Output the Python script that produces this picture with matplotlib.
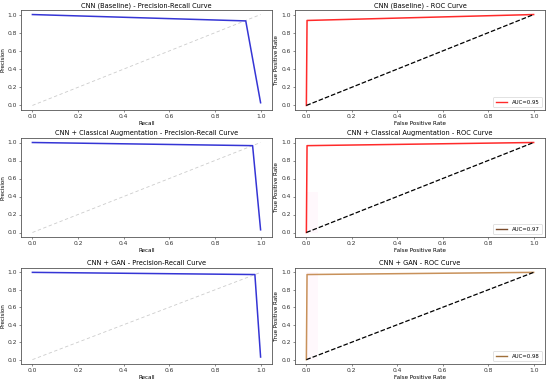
import matplotlib
matplotlib.use("Agg")
import matplotlib.pyplot as plt
from matplotlib.lines import Line2D

models = ["CNN (Baseline)", "CNN + Classical Augmentation", "CNN + GAN"]
pr_recall = [[0.0, 0.935, 1.0], [0.0, 0.965, 1.0], [0.0, 0.975, 1.0]]
pr_precision = [[1.0, 0.93, 0.03], [1.0, 0.965, 0.03], [1.0, 0.975, 0.03]]
roc_fpr = [[0.0, 0.003, 1.0], [0.0, 0.003, 1.0], [0.0, 0.003, 1.0]]
roc_tpr = [[0.0, 0.935, 1.0], [0.0, 0.965, 1.0], [0.0, 0.975, 1.0]]
aucs = [0.95, 0.97, 0.98]
roc_colors = ["#ff2a2a", "#ff2a2a", "#c8915a"]
legend_colors = ["#ff2a2a", "#7a4a2a", "#a0703a"]
ticks = [0.0, 0.2, 0.4, 0.6, 0.8, 1.0]

W, H = 550, 383
fig = plt.figure(figsize=(5.5, 3.83), dpi=100)

col_x = [(21, 272), (295, 545)]
row_y = [(10, 110), (138, 237), (268, 364)]

fs_title = 4.8
fs_tick = 4.3
fs_label = 4.1

def make_ax(r, c):
    x0, x1 = col_x[c]
    y0, y1 = row_y[r]
    ax = fig.add_axes([x0 / W, 1 - y1 / H, (x1 - x0) / W, (y1 - y0) / H])
    for s in ax.spines.values():
        s.set_color("#555555")
        s.set_linewidth(0.6)
    ax.set_xlim(-0.05, 1.05)
    ax.set_ylim(-0.05, 1.05)
    ax.set_xticks(ticks)
    ax.set_yticks(ticks)
    ax.set_xticklabels([f"{t:.1f}" for t in ticks])
    ax.set_yticklabels([f"{t:.1f}" for t in ticks])
    ax.tick_params(labelsize=fs_tick, length=1.5, width=0.4, pad=1.5, colors="#333333")
    return ax

for i, m in enumerate(models):
    ax = make_ax(i, 0)
    ax.plot([0, 1], [0, 1], linestyle=(0, (4, 3)), color="#cccccc", lw=0.6)
    ax.plot(pr_recall[i], pr_precision[i], color="#3535d5", lw=1.1)
    ax.set_title(f"{m} - Precision-Recall Curve", fontsize=fs_title, pad=2)
    ax.set_xlabel("Recall", fontsize=fs_label, labelpad=1)
    ax.set_ylabel("Precision", fontsize=fs_label, labelpad=1.5)

    ax = make_ax(i, 1)
    if i >= 1:
        top = 0.45 if i == 1 else 1.0
        ax.fill_between([0, 0.05], [0, 0], [top, top], color="#ff88cc", alpha=0.06, lw=0)
    ax.plot(roc_fpr[i], roc_tpr[i], color=roc_colors[i], lw=1.1)
    ax.plot([0, 1], [0, 1], linestyle="--", color="black", lw=0.9)
    ax.set_title(f"{m} - ROC Curve", fontsize=fs_title, pad=2)
    ax.set_xlabel("False Positive Rate", fontsize=fs_label, labelpad=1)
    ax.set_ylabel("True Positive Rate", fontsize=fs_label, labelpad=1.5)
    h = Line2D([0], [0], color=legend_colors[i], lw=1.0)
    leg = ax.legend([h], [f"AUC={aucs[i]:.2f}"], loc="lower right", fontsize=3.9,
                    handlelength=2.2, borderpad=0.5, framealpha=1, edgecolor="#cccccc",
                    fancybox=True)
    leg.get_frame().set_linewidth(0.4)

fig.savefig("out.png", dpi=100)
